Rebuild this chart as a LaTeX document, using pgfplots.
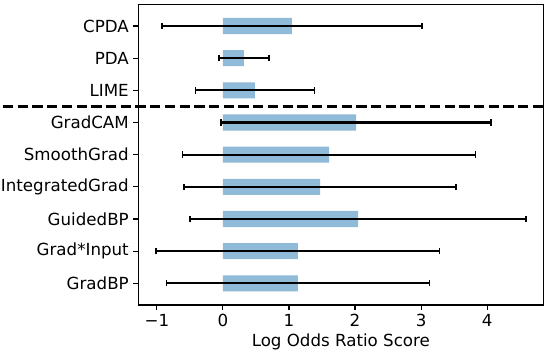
\documentclass[border=0pt]{standalone}
\usepackage{pgfplots}
\pgfplotsset{compat=1.18}
\usepackage{fontspec}
\setmainfont{DejaVu Sans}
\definecolor{barblue}{HTML}{8FBBD9}
\begin{document}
\fontsize{12}{14}\selectfont
\begin{tikzpicture}
\useasboundingbox (-99.6pt,-32.4pt) rectangle (296.4pt,219.6pt);
\begin{axis}[
  at={(0,0)}, anchor=south west,
  scale only axis, width=291.6pt, height=216.5pt,
  xmin=-1.28, xmax=4.85, ymin=-0.675, ymax=8.675,
  xtick={-1,0,1,2,3,4},
  xticklabels={−1,0,1,2,3,4},
  ytick={0,1,2,3,4,5,6,7,8},
  yticklabels={GradBP,Grad*Input,GuidedBP,IntegratedGrad,SmoothGrad,GradCAM,LIME,PDA,CPDA},
  xtick pos=lower, ytick pos=left,
  tick align=outside, major tick length=3.5pt,
  tick style={black, line width=0.8pt},
  axis line style={line width=0.8pt},
  /pgf/number format/assume math mode=true,
  tick label style={font=\fontsize{12}{14}\selectfont},
  label style={font=\fontsize{12}{14}\selectfont},
  xticklabel style={yshift=1pt},
  yticklabel style={xshift=0.8pt},
  xlabel={Log Odds Ratio Score},
  xlabel style={yshift=3.5pt},
  clip=false,
]
\addplot[xbar, bar width=0.5, fill=barblue, draw=none,
  error bars/.cd, x dir=both, x explicit,
  error mark=|,
  error bar style={line width=1.5pt, black},
  error mark options={line width=1.1pt, black, mark size=2.3pt}]
  table[x=v, y=p, x error=e] {
p v e
0 1.136 1.99
1 1.136 2.145
2 2.045 2.545
3 1.470 2.06
4 1.606 2.22
5 2.015 2.04
6 0.485 0.90
7 0.318 0.38
8 1.045 1.97
};
\draw[black, line width=2pt, dash pattern=on 7.4pt off 3.2pt]
  (axis cs:-3.33,5.5) -- (axis cs:4.85,5.5);
\end{axis}
\end{tikzpicture}
\end{document}
